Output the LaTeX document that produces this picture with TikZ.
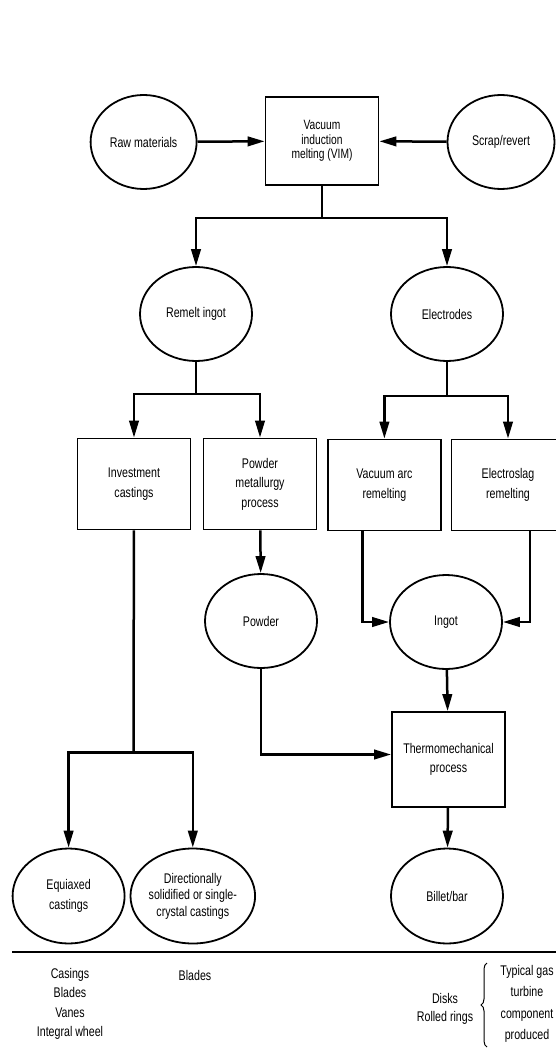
\documentclass[tikz,border=0pt]{standalone}
\usepackage{fontspec}
\setmainfont{Liberation Sans}[FakeStretch=0.76]
\usetikzlibrary{arrows.meta,shapes.geometric,decorations.pathreplacing}

\begin{document}
\begin{tikzpicture}[x=1pt,y=-1pt,
	oval/.style={draw,ellipse,line width=1.8pt,minimum width=112pt,minimum height=94pt,inner sep=0pt,align=center,font=\fontsize{14}{19.5}\selectfont},
	proc/.style={draw,rectangle,line width=1.8pt,minimum width=113pt,minimum height=91pt,inner sep=0pt,align=center,font=\fontsize{14}{19.5}\selectfont},
	flow/.style={line width=2.5pt},
	arr/.style={flow,-{Triangle[length=17pt,width=9.5pt]}},
	note/.style={align=center,font=\fontsize{14}{19.5}\selectfont}]
	\useasboundingbox (0,0) rectangle (556,1048);
	\clip (0,0) rectangle (556,1048);
	\node[oval,minimum width=106pt] (raw) at (143.6,142) {Raw materials};
	\node[proc,minimum height=88pt,font=\fontsize{13.5}{14.5}\selectfont] (vim) at (322,141) {Vacuum\\induction\\melting (VIM)};
	\node[oval,minimum width=107pt] (scrap) at (501,142) {Scrap/revert};
	\node[oval] (remelt) at (196,314) {Remelt ingot};
	\node[oval] (electrodes) at (447,314) {Electrodes};
	\node[proc] (invest) at (134,484) {Investment\\castings};
	\node[proc] (pmp) at (260,484) {Powder\\metallurgy\\process};
	\node[proc] (var) at (384.4,485) {Vacuum arc\\remelting};
	\node[proc] (esr) at (508,485) {Electroslag\\remelting};
	\node[oval] (powder) at (261,621) {Powder};
	\node[oval] (ingot) at (446,622) {Ingot};
	\node[proc,minimum height=95pt] (thermo) at (448.5,759.5) {Thermomechanical\\process};
	\node[oval,minimum height=95pt] (equiaxed) at (68.6,896) {Equiaxed\\castings};
	\node[oval,minimum height=95pt,font=\fontsize{14}{16.5}\selectfont] (dscast) at (192.8,896) {Directionally\\solidified or single-\\crystal castings};
	\node[oval,minimum height=95pt] (billet) at (447,896) {Billet/bar};
	\coordinate (b1) at (322,218);
	\coordinate (b2) at (196,394);
	\coordinate (b3) at (447,396);
	\coordinate (b4) at (133.5,752.5);
	\draw[arr] (raw) -- (vim);
	\draw[arr] (scrap) -- (vim);
	\draw[flow] (vim) -- (b1);
	\draw[arr] (b1) -| (remelt);
	\draw[arr] (b1) -| (electrodes);
	\draw[flow] (remelt) -- (b2);
	\draw[arr] (b2) -| (invest);
	\draw[arr] (b2) -| (pmp);
	\draw[flow] (electrodes) -- (b3);
	\draw[arr] (b3) -| (var);
	\draw[arr] (b3) -| (esr);
	\draw[arr] (pmp) -- (powder);
	\draw[arr] ([xshift=-22pt]var.south) |- (ingot);
	\draw[arr] ([xshift=22pt]esr.south) |- (ingot);
	\draw[arr] (ingot) -- (thermo);
	\draw[arr] (powder) |- ([yshift=5pt]thermo.west);
	\draw[arr] (thermo) -- (billet);
	\draw[flow] (invest) -- (b4);
	\draw[arr] (b4) -| (equiaxed);
	\draw[arr] (b4) -| (dscast);
	\draw[line width=2pt] (12,952) -- (556,952);
	\node[note] (uses1) at (70,1004) {Casings\\Blades\\Vanes\\Integral wheel};
	\node[note] (uses2) at (195,975) {Blades};
	\node[note,font=\fontsize{14}{17.5}\selectfont] (uses3) at (445,1009) {Disks\\Rolled rings};
	\node[note,font=\fontsize{14}{21.5}\selectfont] (typical) at (527,1004) {Typical gas\\turbine\\component\\produced};
	\coordinate (br1) at (487,1047);
	\coordinate (br2) at (487,963);
	\draw[line width=1pt,decorate,decoration={brace,amplitude=6pt}] (br1) -- (br2);
\end{tikzpicture}
\end{document}
